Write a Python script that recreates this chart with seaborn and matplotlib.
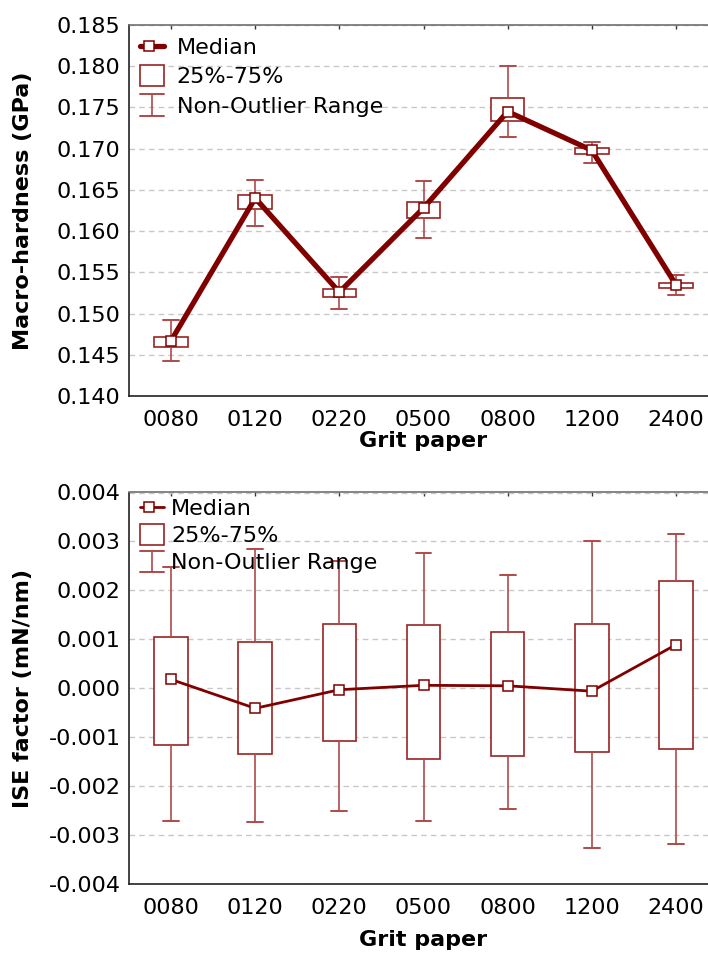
import numpy as np
import matplotlib
matplotlib.use("Agg")
import matplotlib.pyplot as plt
import seaborn as sns
from matplotlib.legend_handler import HandlerBase
from matplotlib.lines import Line2D
from matplotlib.patches import Rectangle

# ---- data -------------------------------------------------------------
grit = ["0080", "0120", "0220", "0500", "0800", "1200", "2400"]

# Macro-hardness (GPa)
hard_median = [0.1467, 0.1640, 0.1526, 0.1628, 0.1745, 0.1698, 0.1535]
hard_q1 = [0.1459, 0.1627, 0.1520, 0.1616, 0.1734, 0.1693, 0.1531]
hard_q3 = [0.1472, 0.1644, 0.1530, 0.1635, 0.1761, 0.1701, 0.1537]
hard_lo = [0.1442, 0.1606, 0.1505, 0.1592, 0.1714, 0.1683, 0.1522]
hard_hi = [0.1492, 0.1662, 0.1544, 0.1661, 0.1800, 0.1708, 0.1547]

# ISE factor (mN/nm)
ise_median = [0.00018, -0.00041, -0.00003, 0.00006, 0.00005, -0.00006, 0.00089]
ise_q1 = [-0.00115, -0.00135, -0.00108, -0.00145, -0.00139, -0.00131, -0.00124]
ise_q3 = [0.00104, 0.00095, 0.00131, 0.00129, 0.00115, 0.00131, 0.00220]
ise_lo = [-0.00272, -0.00274, -0.00251, -0.00272, -0.00246, -0.00326, -0.00318]
ise_hi = [0.00247, 0.00285, 0.00260, 0.00276, 0.00232, 0.00300, 0.00316]

hard_ticks = [0.140, 0.145, 0.150, 0.155, 0.160, 0.165, 0.170, 0.175, 0.180, 0.185]
ise_ticks = [-0.004, -0.003, -0.002, -0.001, 0.000, 0.001, 0.002, 0.003, 0.004]

# ---- style ------------------------------------------------------------
sns.set_theme(style="white")
plt.rcParams["font.family"] = ["DejaVu Sans"]
plt.rcParams["axes.unicode_minus"] = False
plt.rcParams["text.color"] = "black"
plt.rcParams["axes.labelcolor"] = "black"
plt.rcParams["xtick.color"] = "black"
plt.rcParams["ytick.color"] = "black"

LINE = "#800000"
BOX = "#9a2222"
WHISK = "#b04a4a"
GRID = "#c8c8c8"
FS = 16


class MedianHandler(HandlerBase):
    def __init__(self, lw, **kw):
        super().__init__(**kw)
        self.lw = lw

    def create_artists(self, legend, orig_handle, xdescent, ydescent,
                       width, height, fontsize, trans):
        y = height / 2 - ydescent
        line = Line2D([-xdescent, width - xdescent], [y, y], color=LINE,
                      lw=self.lw, transform=trans)
        mk = Line2D([width * 0.38 - xdescent], [y], marker="s", ms=7,
                    mfc="white", mec=LINE, mew=1.1, lw=0, transform=trans)
        return [line, mk]


class BoxHandler(HandlerBase):
    def create_artists(self, legend, orig_handle, xdescent, ydescent,
                       width, height, fontsize, trans):
        r = Rectangle((-xdescent, -ydescent), width, height, fc="white",
                      ec=BOX, lw=1.2, transform=trans)
        return [r]


class WhiskerHandler(HandlerBase):
    def create_artists(self, legend, orig_handle, xdescent, ydescent,
                       width, height, fontsize, trans):
        cx = width / 2 - xdescent
        y0, y1 = -ydescent, height - ydescent
        a = Line2D([cx, cx], [y0, y1], color=WHISK, lw=1.2, transform=trans)
        b = Line2D([-xdescent, width - xdescent], [y1, y1], color=WHISK,
                   lw=1.4, transform=trans)
        c = Line2D([-xdescent, width - xdescent], [y0, y0], color=WHISK,
                   lw=1.4, transform=trans)
        return [a, b, c]


def draw_panel(ax, med, q1, q3, lo, hi, lw, ticks, ylabel, xlabelpad,
               legend_kw):
    pos = np.arange(len(grit))
    stats = [dict(med=m, q1=a, q3=b, whislo=l, whishi=h, fliers=[])
             for m, a, b, l, h in zip(med, q1, q3, lo, hi)]
    ax.bxp(stats, positions=pos, widths=0.4, capwidths=0.19,
           patch_artist=True, showfliers=False,
           boxprops=dict(facecolor="white", edgecolor=BOX, lw=1.2),
           whiskerprops=dict(color=WHISK, lw=1.2),
           capprops=dict(color=WHISK, lw=1.4),
           medianprops=dict(visible=False), zorder=3)
    sns.lineplot(x=pos, y=med, ax=ax, color=LINE, lw=lw, marker="s",
                 markersize=7, markerfacecolor="white", markeredgecolor=LINE,
                 markeredgewidth=1.1, zorder=5, legend=False)

    ax.set_xlim(-0.5, len(grit) - 0.5)
    ax.set_ylim(ticks[0], ticks[-1])
    ax.set_yticks(ticks)
    ax.set_yticklabels([f"{t:.3f}" for t in ticks], fontsize=FS)
    ax.set_xticks(pos)
    ax.set_xticklabels(grit, fontsize=FS)
    ax.yaxis.grid(True, color=GRID, ls=(0, (4, 3)), lw=1.0)
    ax.xaxis.grid(False)
    ax.set_axisbelow(True)
    ax.tick_params(axis="both", direction="in", length=3, width=1,
                   color="#333333", top=True, right=False)
    ax.tick_params(axis="y", pad=6)
    ax.tick_params(axis="x", pad=10)
    for side in ["top", "left", "bottom", "right"]:
        ax.spines[side].set_color("#222222")
        ax.spines[side].set_linewidth(1.2)
    ax.spines["top"].set_color("#707070")
    ax.set_xlabel("Grit paper", fontsize=FS, fontweight="bold",
                  labelpad=xlabelpad)
    ax.set_ylabel(ylabel, fontsize=FS, fontweight="bold")
    ax.yaxis.set_label_coords(-0.163, 0.5)

    handles = [Line2D([], []), Rectangle((0, 0), 1, 1), Line2D([], [])]
    labels = ["Median", "25%-75%", "Non-Outlier Range"]
    leg = ax.legend(handles, labels, loc="upper left", frameon=False,
                    fontsize=FS, borderpad=0, borderaxespad=0,
                    handlelength=1.05, handleheight=1.1,
                    handler_map={handles[0]: MedianHandler(lw=lw),
                                 handles[1]: BoxHandler(),
                                 handles[2]: WhiskerHandler()},
                    **legend_kw)
    leg.set_zorder(10)


fig = plt.figure(figsize=(7.08, 9.55), dpi=100)
ax1 = fig.add_axes([129 / 708, (955 - 396) / 955, 589 / 708, 371 / 955])
ax2 = fig.add_axes([129 / 708, (955 - 884) / 955, 589 / 708, 391.5 / 955])

draw_panel(ax1, hard_median, hard_q1, hard_q3, hard_lo, hard_hi, 3.8,
           hard_ticks, "Macro-hardness (GPa)", 1,
           dict(bbox_to_anchor=(0.019, 0.972), labelspacing=0.33,
                handletextpad=0.6))
draw_panel(ax2, ise_median, ise_q1, ise_q3, ise_lo, ise_hi, 2.0,
           ise_ticks, "ISE factor (mN/nm)", 9,
           dict(bbox_to_anchor=(0.019, 0.99), labelspacing=0.22,
                handletextpad=0.35))

fig.savefig("out.png", dpi=100)
